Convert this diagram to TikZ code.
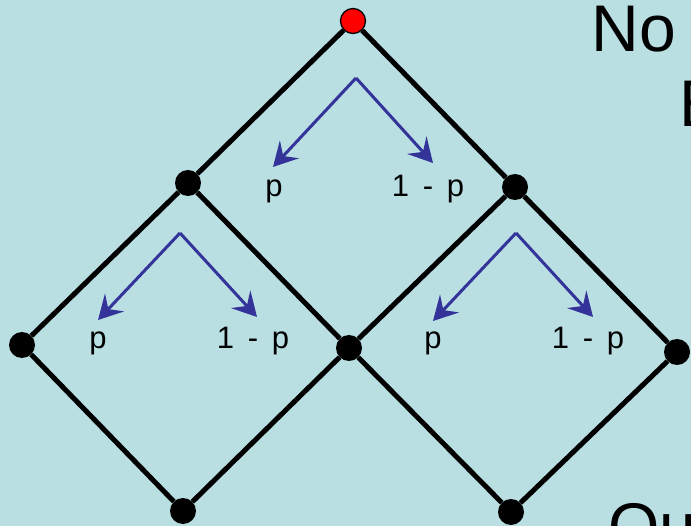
\documentclass[tikz,border=0pt]{standalone}
\usepackage{fontspec}
\setmainfont{Liberation Sans}
\usepackage{xcolor}
\usepackage{tikz}
\usetikzlibrary{arrows.meta}
\definecolor{bgblue}{RGB}{185,223,227}
\definecolor{probblue}{RGB}{51,51,153}

\begin{document}
\begin{tikzpicture}[x=1pt,y=-1pt,
  dot/.style={circle,fill=black,inner sep=0pt,minimum size=26pt},
  edge/.style={line width=5pt},
  prob/.style={probblue,line width=3pt,-{Stealth[length=24pt,width=26pt,inset=9pt]}},
  lab/.style={anchor=base,font=\fontsize{31}{32}\selectfont},
  big/.style={anchor=base west,font=\fontsize{66}{70}\selectfont}]
\clip (0,0) rectangle (691,526);
\fill[bgblue] (0,0) rectangle (691,526);
% lattice points
\node[dot,fill=red,draw=black,line width=1.3pt,minimum size=25pt] (top) at (353,21) {};
\node[dot] (l1) at (188,183) {};
\node[dot] (r1) at (515,187) {};
\node[dot] (l2) at (22,345) {};
\node[dot] (m2) at (349,348) {};
\node[dot] (r2) at (677,352) {};
\node[dot] (l3) at (183,511) {};
\node[dot] (r3) at (511,512) {};
% lattice edges
\draw[edge] (top) -- (l1);
\draw[edge] (top) -- (r1);
\draw[edge] (l1) -- (l2);
\draw[edge] (l1) -- (m2);
\draw[edge] (r1) -- (m2);
\draw[edge] (r1) -- (r2);
\draw[edge] (l2) -- (l3);
\draw[edge] (m2) -- (l3);
\draw[edge] (m2) -- (r3);
\draw[edge] (r2) -- (r3);
% step probabilities, top
\coordinate (ta) at (356,78);
\coordinate (tl) at (273,167);
\coordinate (tr) at (433,163);
\draw[prob] (ta) -- (tl);
\draw[prob] (ta) -- (tr);
\node[lab] (tp) at (274,197) {p};
\node[lab] (tq) at (428,197) {1 \,-\, p};
% step probabilities, left
\coordinate (la) at (180,233);
\coordinate (ll) at (98,320);
\coordinate (lr) at (257,317);
\draw[prob] (la) -- (ll);
\draw[prob] (la) -- (lr);
\node[lab] (lp) at (98,349) {p};
\node[lab] (lq) at (253,349) {1 \,-\, p};
% step probabilities, right
\coordinate (ra) at (516,233);
\coordinate (rl) at (433,321);
\coordinate (rr) at (593,317);
\draw[prob] (ra) -- (rl);
\draw[prob] (ra) -- (rr);
\node[lab] (rp) at (433,349) {p};
\node[lab] (rq) at (588,349) {1 \,-\, p};
% text cut off at the edge
\node[big] (no) at (588,52) {No};
\node[big] (e) at (676,127) {E};
\node[big] (ou) at (605,549) {Ou};
\end{tikzpicture}
\end{document}
